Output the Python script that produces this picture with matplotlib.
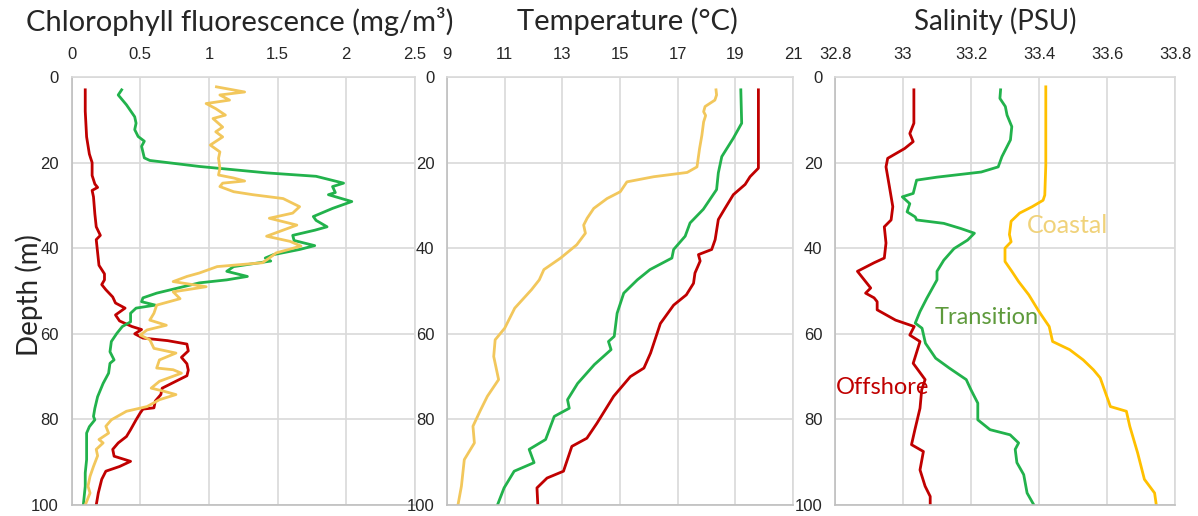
import matplotlib
matplotlib.use("Agg")
import matplotlib.pyplot as plt

# ---------------- data ----------------
depth_ticks = [0, 20, 40, 60, 80, 100]

chl_ticks = [0, 0.5, 1, 1.5, 2, 2.5]
chl_ticklabels = ["0", "0.5", "1", "1.5", "2", "2.5"]
temp_ticks = [9, 11, 13, 15, 17, 19, 21]
temp_ticklabels = ["9", "11", "13", "15", "17", "19", "21"]
sal_ticks = [32.8, 33.0, 33.2, 33.4, 33.6, 33.8]
sal_ticklabels = ["32.8", "33", "33.2", "33.4", "33.6", "33.8"]

titles = ["Chlorophyll fluorescence (mg/m³)", "Temperature (°C)", "Salinity (PSU)"]
ylabel = "Depth (m)"
station_names = ["Offshore", "Transition", "Coastal"]

# Chlorophyll – Offshore
chl_off_depth = [3, 8, 14, 18, 20, 23, 25, 25.8, 26.5, 28, 32, 35, 37, 38, 41, 44, 46, 47.4, 48.5, 49.7,
                 51.4, 52.8, 54, 55.6, 57, 58.3, 59, 60, 61, 61.6, 62.4, 64, 65.5, 67, 68.5, 69.8, 70.6,
                 72.7, 74.2, 75.7, 77.3, 77.6, 78.5, 80.1, 82.4, 84, 85.5, 87, 88.6, 89.8, 91, 92.1, 94,
                 97.2, 100]
chl_off = [0.10, 0.10, 0.11, 0.13, 0.15, 0.15, 0.17, 0.19, 0.15, 0.16, 0.17, 0.18, 0.21, 0.18, 0.19, 0.20,
           0.24, 0.24, 0.22, 0.25, 0.30, 0.32, 0.39, 0.32, 0.35, 0.44, 0.51, 0.46, 0.52, 0.70, 0.84, 0.85,
           0.80, 0.84, 0.85, 0.84, 0.79, 0.66, 0.65, 0.61, 0.60, 0.52, 0.50, 0.47, 0.43, 0.40, 0.34, 0.30,
           0.31, 0.43, 0.35, 0.25, 0.22, 0.195, 0.18]

# Chlorophyll – Transition
chl_tra_depth = [3, 4.2, 6.5, 9.3, 10.8, 12.3, 13.9, 15, 16.2, 18.9, 19.5, 20.9, 22.4, 23.2, 24.8, 25.6,
                 27, 27.5, 29.1, 30.7, 32.6, 33.5, 35, 35.8, 37, 38.2, 39.4, 40.3, 41.5, 42.3, 43, 44.3,
                 45.4, 46.6, 47.4, 48.1, 50.5, 51.6, 52.5, 53.3, 54, 55.2, 57.2, 58.3, 59.9, 61.8, 64.2,
                 66.1, 66.9, 69.2, 71.6, 74.7, 77.4, 79.3, 80.1, 81.7, 83.2, 86.3, 89.4, 92.5, 95.6, 100]
chl_tra = [0.365, 0.34, 0.40, 0.46, 0.47, 0.46, 0.485, 0.53, 0.51, 0.53, 0.57, 0.93, 1.42, 1.78, 1.98, 1.90,
           1.92, 1.87, 2.04, 1.90, 1.76, 1.78, 1.86, 1.77, 1.61, 1.62, 1.77, 1.66, 1.47, 1.41, 1.45, 1.18,
           1.13, 1.28, 1.13, 0.93, 0.62, 0.52, 0.51, 0.61, 0.47, 0.43, 0.43, 0.37, 0.33, 0.29, 0.28,
           0.31, 0.28, 0.27, 0.23, 0.19, 0.17, 0.16, 0.17, 0.13, 0.11, 0.11, 0.11, 0.10, 0.10, 0.086]

# Chlorophyll – Coastal
chl_coa_depth = [2.3, 3.5, 4.2, 5.4, 6.2, 7.4, 8.9, 9.7, 11.7, 12.8, 14, 15.9, 17.5, 19, 21.3, 22.9, 23.6,
                 24.3, 24.8, 25.6, 26.8, 27.5, 28.4, 30.3, 31.8, 33, 34.6, 37.2, 38.4, 39.5, 41.1, 42.3,
                 43.4, 44.3, 45.8, 46.6, 47.8, 49, 50.2, 51.8, 53.3, 55.2, 56.8, 58, 59.1, 60.3, 61.4,
                 63.4, 64.5, 66.1, 68, 68.4, 69.2, 71.1, 72.7, 73.4, 74.2, 75.4, 77, 78.1, 80.1, 81.6,
                 83.2, 84.7, 85.5, 87, 88.5, 91, 93.3, 95.6, 97.2, 100]
chl_coa = [1.055, 1.26, 1.08, 1.15, 0.98, 1.05, 1.12, 1.03, 1.10, 1.05, 1.10, 1.01, 1.08, 1.07, 1.08, 1.07,
           1.18, 1.26, 1.10, 1.08, 1.18, 1.32, 1.54, 1.66, 1.61, 1.44, 1.64, 1.42, 1.59, 1.67, 1.49, 1.44,
           1.39, 1.06, 0.93, 0.84, 0.74, 0.98, 0.74, 0.79, 0.62, 0.60, 0.57, 0.69, 0.55, 0.50, 0.57,
           0.60, 0.76, 0.64, 0.62, 0.74, 0.80, 0.64, 0.58, 0.67, 0.76, 0.64, 0.55, 0.40, 0.29, 0.25,
           0.27, 0.20, 0.23, 0.18, 0.19, 0.16, 0.135, 0.12, 0.135, 0.10]

# Temperature
temp_off_depth = [3, 21.3, 23.3, 25.1, 27.5, 30.7, 33.3, 38, 40.3, 41.5, 43, 45.8, 48.2, 50.9, 53.3, 57.6,
                  64.5, 68, 70, 74.6, 80.9, 84.4, 86.3, 92.1, 93.7, 96, 100]
temp_off = [19.8, 19.8, 19.51, 19.34, 18.93, 18.64, 18.41, 18.30, 18.18, 17.72, 17.78, 17.60, 17.55, 17.30,
            16.86, 16.40, 16.06, 15.83, 15.36, 14.78, 14.20, 13.85, 13.33, 13.04, 12.47, 12.12, 12.15]
temp_tra_depth = [3, 10.8, 14.3, 18.6, 22.4, 26.3, 30.9, 34.1, 37.2, 40.3, 42.3, 45, 47.4, 50.5, 55.2,
                  60.6, 61.8, 63.7, 67.2, 71.6, 75.4, 77.4, 79.3, 84.7, 87, 90.1, 92.1, 96, 100]
temp_tra = [19.19, 19.22, 18.93, 18.53, 18.41, 18.35, 17.89, 17.43, 17.26, 16.86, 16.80, 16.04, 15.6, 15.13,
            14.90, 14.80, 14.60, 14.69, 14.11, 13.53, 13.18, 13.24, 12.72, 12.42, 11.85, 12.02, 11.33,
            10.98, 10.75]
temp_coa_depth = [3, 4.2, 5.4, 6.9, 8.1, 9, 10.5, 13.6, 16.7, 21, 22.3, 23.3, 24.5, 26.8, 28.4, 30.7, 33,
                  34.6, 36.5, 39.2, 42.3, 45, 47.4, 49.7, 54, 58.7, 61.4, 65.3, 70.7, 74.6, 78, 81.6,
                  85.5, 89.4, 95.6, 100]
temp_coa = [18.33, 18.35, 18.29, 17.95, 17.90, 17.97, 17.90, 17.84, 17.76, 17.67, 17.33, 16.17, 15.24,
            15.01, 14.55, 14.09, 13.86, 13.74, 13.80, 13.50, 12.94, 12.36, 12.20, 11.93, 11.35, 11.0,
            10.67, 10.62, 10.79, 10.40, 10.15, 9.90, 9.95, 9.60, 9.50, 9.38]

# Salinity
sal_off_depth = [3, 10.8, 13.2, 15.1, 16.7, 19, 21, 25.6, 30.3, 33.4, 35, 38.8, 42.3, 43.4, 45.4, 47.8,
                 49.3, 50.5, 51.6, 52.5, 54.4, 56.8, 58.3, 60.3, 61.8, 66.9, 70.7, 73.1, 77.4, 82.4, 85.9,
                 87.5, 91.8, 95.6, 98, 100]
sal_off = [33.032, 33.032, 33.02, 33.03, 33.005, 32.955, 32.95, 32.96, 32.97, 32.965, 32.945, 32.95,
           32.945, 32.915, 32.866, 32.89, 32.905, 32.89, 32.915, 32.924, 32.924, 32.978, 33.033, 33.02,
           33.05, 33.03, 33.065, 33.055, 33.05, 33.035, 33.025, 33.06, 33.05, 33.065, 33.08, 33.08]
sal_tra_depth = [3, 5, 6.9, 8.9, 11.6, 14.7, 18.6, 21, 22.2, 23.4, 24.1, 27.2, 28, 29.6, 31.5, 32.7, 33.4,
                 34.2, 35.4, 36.5, 38.1, 40.1, 42.8, 45.4, 47.4, 51.7, 54.8, 57.5, 58.7, 62.2, 65.7, 68,
                 70.7, 73.1, 76.2, 80.1, 82.4, 83.6, 85.5, 87, 90.1, 92.9, 97.2, 100]
sal_tra = [33.287, 33.285, 33.301, 33.306, 33.32, 33.316, 33.291, 33.28, 33.23, 33.10, 33.04, 33.03,
           32.998, 33.02, 33.012, 33.036, 33.04, 33.12, 33.17, 33.21, 33.19, 33.15, 33.12, 33.10, 33.10,
           33.07, 33.05, 33.036, 33.056, 33.066, 33.096, 33.136, 33.186, 33.20, 33.22, 33.22, 33.256,
           33.315, 33.34, 33.33, 33.335, 33.355, 33.365, 33.385]
sal_coa_depth = [2.3, 20.6, 27.6, 28.8, 30.3, 31.8, 33.7, 36.8, 38.5, 40, 43.1, 45.4, 47.8, 50.9, 54.8,
                 58.3, 61.8, 63.7, 66.1, 68.4, 70.3, 77, 78.1, 81.6, 87.8, 94, 97.2, 100]
sal_coa = [33.42, 33.42, 33.417, 33.412, 33.38, 33.343, 33.318, 33.313, 33.318, 33.30, 33.30, 33.32,
           33.34, 33.37, 33.40, 33.43, 33.44, 33.49, 33.53, 33.56, 33.58, 33.61, 33.657, 33.667, 33.69,
           33.71, 33.74, 33.745]

# ---------------- style ----------------
RED = "#C00000"
GREEN = "#22B24C"
YEL_SOFT = "#F2C75C"
YEL_STRONG = "#FFC000"
GRID = "#D9D9D9"
TXT = "#262626"
TICK_FONT = "Liberation Sans"
TITLE_FONT = ["Lato", "DejaVu Sans"]

W, H = 1198, 516
fig = plt.figure(figsize=(W / 100, H / 100), dpi=100)

def px_axes(x0, x1, y0=77, y1=505):
    return fig.add_axes([x0 / W, 1 - y1 / H, (x1 - x0) / W, (y1 - y0) / H])

ax1 = px_axes(71.5, 415)
ax2 = px_axes(447, 793)
ax3 = px_axes(835, 1175)

def style(ax, xlim, xticks, xlabels, title, title_x, title_size):
    ax.set_xlim(*xlim)
    ax.set_ylim(100, 0)
    ax.xaxis.tick_top()
    ax.set_xticks(xticks)
    ax.set_xticklabels(xlabels)
    ax.set_yticks(depth_ticks)
    ax.set_yticklabels([str(d) for d in depth_ticks])
    ax.tick_params(axis="both", length=0, labelsize=12, colors=TXT)
    ax.tick_params(axis="x", pad=11)
    ax.tick_params(axis="y", pad=9)
    for lab in ax.get_xticklabels() + ax.get_yticklabels():
        lab.set_fontfamily(TICK_FONT)
    ax.grid(True, color=GRID, linewidth=1.2)
    ax.set_axisbelow(True)
    for side in ["top", "right"]:
        ax.spines[side].set_color(GRID)
        ax.spines[side].set_linewidth(1.2)
    for side in ["left", "bottom"]:
        ax.spines[side].set_color("#BFBFBF")
        ax.spines[side].set_linewidth(1.2)
    fig.text(title_x / W, 1 - 21 / H, title, ha="center", va="center",
             fontsize=title_size, color=TXT, family=TITLE_FONT)

LW = 2.0
style(ax1, (0, 2.5), chl_ticks, chl_ticklabels, titles[0], 240, 21)
ax1.plot(chl_off, chl_off_depth, color=RED, lw=LW)
ax1.plot(chl_tra, chl_tra_depth, color=GREEN, lw=LW)
ax1.plot(chl_coa, chl_coa_depth, color=YEL_SOFT, lw=LW)
fig.text(29 / W, 1 - 295 / H, ylabel, rotation=90, ha="center", va="center",
         fontsize=20, color=TXT, family=TITLE_FONT)

style(ax2, (9, 21), temp_ticks, temp_ticklabels, titles[1], 627, 21)
ax2.plot(temp_coa, temp_coa_depth, color=YEL_SOFT, lw=LW)
ax2.plot(temp_tra, temp_tra_depth, color=GREEN, lw=LW)
ax2.plot(temp_off, temp_off_depth, color=RED, lw=LW)

style(ax3, (32.8, 33.8), sal_ticks, sal_ticklabels, titles[2], 995, 20)
ax3.plot(sal_off, sal_off_depth, color=RED, lw=LW)
ax3.plot(sal_tra, sal_tra_depth, color=GREEN, lw=LW)
ax3.plot(sal_coa, sal_coa_depth, color=YEL_STRONG, lw=LW)

ax3.text(32.802, 72.5, station_names[0], color=RED, fontsize=17, family=TITLE_FONT, va="center", ha="left")
ax3.text(33.094, 56.3, station_names[1], color="#5E9A3C", fontsize=17, family=TITLE_FONT, va="center", ha="left")
ax3.text(33.365, 34.8, station_names[2], color="#F0D27A", fontsize=18, family=TITLE_FONT, va="center", ha="left")

fig.savefig("out.png", dpi=100)
